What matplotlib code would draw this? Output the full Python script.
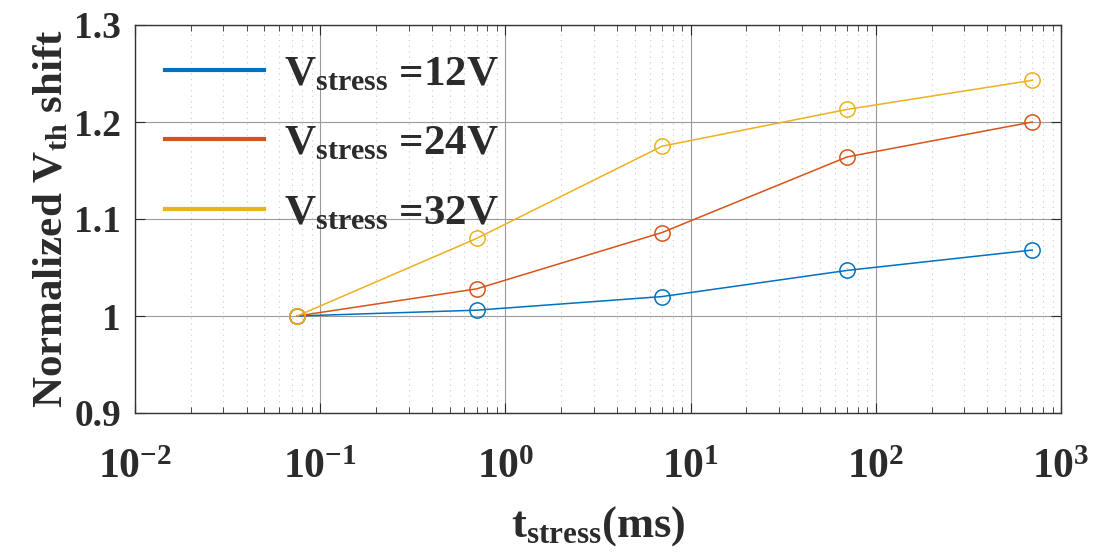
import numpy as np
import matplotlib.pyplot as plt
from matplotlib.lines import Line2D

plt.rcParams['font.family'] = ['Liberation Serif', 'DejaVu Serif']
plt.rcParams['font.weight'] = 'bold'
plt.rcParams['axes.labelweight'] = 'bold'
plt.rcParams['mathtext.fontset'] = 'custom'
plt.rcParams['mathtext.rm'] = 'Liberation Serif:bold'
plt.rcParams['mathtext.it'] = 'Liberation Serif:bold'
plt.rcParams['mathtext.bf'] = 'Liberation Serif:bold'
plt.rcParams['mathtext.default'] = 'rm'

# data
t_stress = [0.075, 0.7, 7, 70, 700]
v12 = [1.0, 1.006, 1.020, 1.047, 1.068]
v24 = [1.0, 1.028, 1.086, 1.164, 1.200]
v32 = [1.0, 1.080, 1.175, 1.213, 1.243]
labels = ['V$_{stress}$ =12V', 'V$_{stress}$ =24V', 'V$_{stress}$ =32V']
colors = ['#0072BD', '#D95319', '#EDB120']

txt = '#2b2b2b'

fig = plt.figure(figsize=(10.95, 5.54), dpi=100)
ax = fig.add_axes([135/1095, 1 - 413/554, (1061-135)/1095, (413-25)/554])

for y, c in zip([v12, v24, v32], colors):
    ax.plot(t_stress, y, '-o', color=c, lw=1.1, markersize=11,
            markerfacecolor='none', markeredgewidth=1.1)

ax.set_xscale('log')
ax.set_xlim(1e-2, 1e3)
ax.set_ylim(0.9, 1.3)
ax.set_yticks([0.9, 1.0, 1.1, 1.2, 1.3])
ax.set_yticklabels(['0.9', '1', '1.1', '1.2', '1.3'])
ax.set_xticks([1e-2, 1e-1, 1e0, 1e1, 1e2, 1e3])
ax.set_xticklabels(['10$^{-2}$', '10$^{-1}$', '10$^{0}$', '10$^{1}$', '10$^{2}$', '10$^{3}$'])

ax.grid(True, which='major', color='#9a9a9a', lw=0.8)
ax.grid(True, which='minor', axis='x', color='#c8c8c8', lw=0.8, linestyle=(0, (1, 4)))
ax.set_axisbelow(True)

ax.tick_params(which='both', direction='in', top=True, right=True, colors=txt)
ax.tick_params(which='major', length=7, width=0.8)
ax.tick_params(which='minor', length=4, width=0.6)
ax.tick_params(axis='y', labelsize=27, pad=10)
ax.tick_params(axis='x', labelsize=30, pad=26)
for s in ax.spines.values():
    s.set_color('#333333')
    s.set_linewidth(1.0)

ax.set_xlabel('t$_{stress}$(ms)', fontsize=32, color=txt, labelpad=12)
ax.set_ylabel('Normalized V$_{th}$ shift', fontsize=31, color=txt, labelpad=2)

handles = [Line2D([0], [0], color=c, lw=3) for c in colors]
leg = ax.legend(handles, labels, loc='upper left', frameon=False, fontsize=31,
                handlelength=2.3, handletextpad=0.45, labelspacing=0.7,
                borderaxespad=0.3, labelcolor=txt)

fig.savefig('out.png', dpi=100)
